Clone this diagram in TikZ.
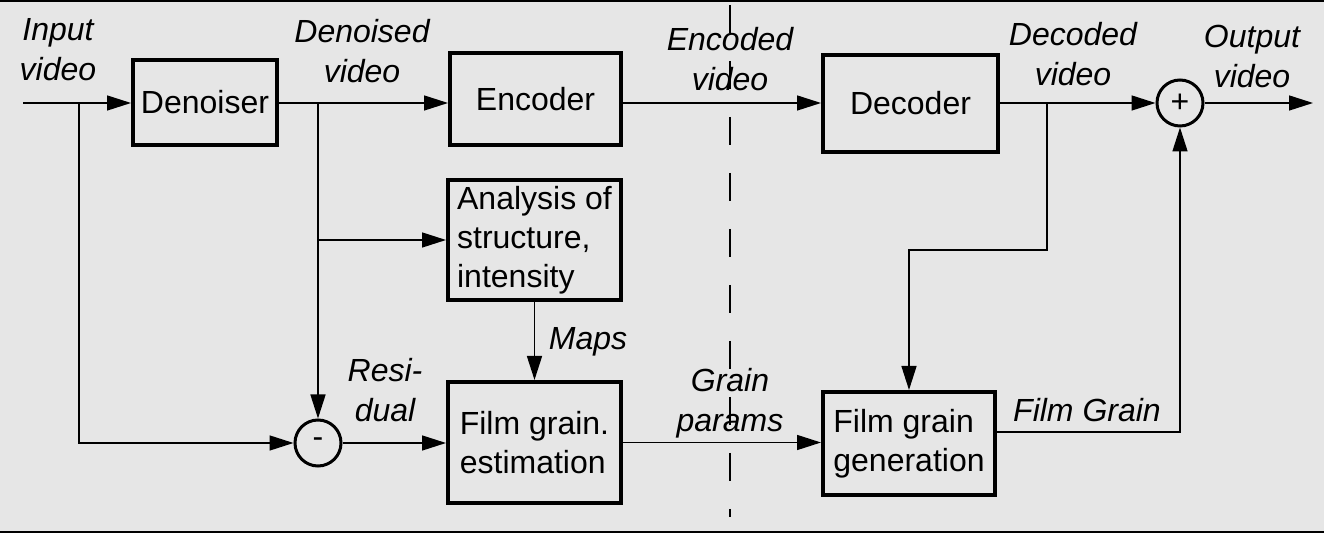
\documentclass[tikz,border=0pt]{standalone}
\usepackage{fontspec}
\setmainfont{Liberation Sans}
\usetikzlibrary{arrows.meta}
\definecolor{bgray}{HTML}{E6E6E6}
\begin{document}
\begin{tikzpicture}[x=0.5pt,y=-0.5pt]
\tikzstyle{every node}+=[inner sep=0pt, font=\fontsize{16}{19.5}\selectfont]
\tikzstyle{blk}=[draw, line width=2pt, align=left]
\tikzstyle{sum}=[draw, circle, line width=1.5pt, minimum size=23pt]
\tikzstyle{lbl}=[align=center, font=\fontsize{16}{20}\selectfont\itshape]
\tikzstyle{wire}=[line width=0.75pt, -{Triangle[length=12pt,width=7.5pt]}]
\useasboundingbox (0,0) rectangle (1324,533);
\fill [bgray] (0,0) rectangle (1324,533);
\draw [line width=1pt] (0,1) -- (1324,1);
\draw [line width=1pt] (0,532) -- (1324,532);
\draw [line width=0.75pt, dash pattern=on 14pt off 14pt] (730,5) -- (730,517);
\node [blk, minimum width=72pt, minimum height=42.5pt] (den) at (205,102.5) {Denoiser};
\node [blk, minimum width=85.5pt, minimum height=46pt] (enc) at (535.5,99) {Encoder};
\node [blk, minimum width=87.5pt, minimum height=48.5pt] (dec) at (910.5,103.5) {Decoder};
\node [blk, minimum width=86.5pt, minimum height=60pt] (ana) at (534.5,240) {Analysis of\\structure,\\intensity};
\node [blk, minimum width=86.5pt, minimum height=60.5pt] (est) at (534.5,442.5) {Film grain.\\estimation};
\node [blk, minimum width=86pt, minimum height=51.5pt] (gen) at (909,443.5) {Film grain\\generation};
\node [sum] (plus) at (1180,103) {+};
\node [sum] (minus) at (318,443) {-};
\coordinate (in) at (23,103);
\coordinate (out) at (1313,103);
\coordinate (jin) at (79,103);
\coordinate (jden) at (318,103);
\coordinate (jdec) at (1047,103);
\coordinate (kdec) at (1047,250);
\draw [wire] (in) -- (in -| den.west);
\draw [wire] (den.east |- in) -- (in -| enc.west);
\draw [wire] (enc.east |- in) -- (in -| dec.west);
\draw [wire] (dec.east |- in) -- (plus.west);
\draw [wire] (plus.east) -- (out);
\draw [wire] (jin) |- (minus.west);
\draw [wire] (jden) -- (minus.north);
\draw [wire] (jden |- ana.west) -- (ana.west);
\draw [wire] (minus.east) -- (minus -| est.west);
\draw [wire] (ana.south) -- (est.north);
\draw [wire] (est.east) -- (est.east -| gen.west);
\draw [wire] (jdec) -- (kdec) -| (gen.north);
\draw [wire] ([yshift=5.75pt]gen.east) -| (plus.south);
\node [lbl] (lin) at (58,50) {Input\\video};
\node [lbl] (lden) at (362,51) {Denoised\\video};
\node [lbl] (lenc) at (730,59) {Encoded\\video};
\node [lbl] (ldec) at (1073,54) {Decoded\\video};
\node [lbl] (lout) at (1252,56) {Output\\video};
\node [lbl] (lmaps) at (588,342) {Maps};
\node [lbl] (lres) at (385,390) {Resi-\\dual};
\node [lbl] (lpar) at (730,403) {Grain\\params};
\node [lbl] (lfg) at (1087,410) {Film Grain};
\end{tikzpicture}
\end{document}
